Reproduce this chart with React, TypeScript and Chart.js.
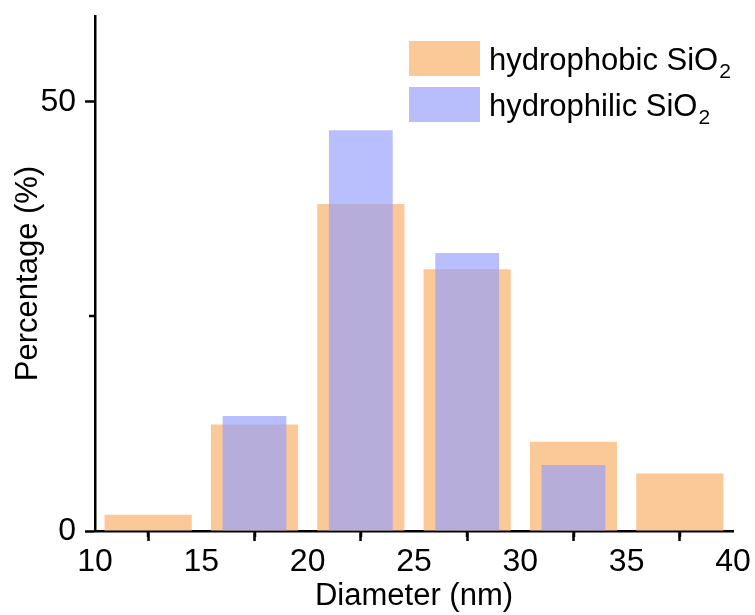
import React, { useEffect, useRef } from 'react';
import { Chart, registerables } from 'chart.js';

Chart.register(...registerables);

// ---- data ----
const binCenters = [12.5, 17.5, 22.5, 27.5, 32.5, 37.5];
const hydrophobicValues = [1.9, 12.4, 38.1, 30.5, 10.4, 6.7];
const hydrophilicCenters = [17.5, 22.5, 27.5, 32.5];
const hydrophilicValues = [13.4, 46.7, 32.4, 7.7];
const xMajorTicks = [10, 15, 20, 25, 30, 35, 40];
const xMinorTicks = [12.5, 17.5, 22.5, 27.5, 32.5, 37.5];
const yMajorTicks = [0, 50];
const yMinorTicks = [25];
const seriesNames = ['hydrophobic SiO', 'hydrophilic SiO'];
const seriesSubscripts = ['2', '2'];
const xTitle = 'Diameter (nm)';
const yTitle = 'Percentage (%)';

const FONT = '"Liberation Sans", Arial, sans-serif';
const ORANGE = 'rgb(251,200,151)';
const BLUE = 'rgba(149,160,251,0.67)';
const BLUE_SWATCH = 'rgb(184,190,251)';

const overlayPlugin = {
  id: 'overlayPlugin',
  afterDraw(chart: any) {
    const ctx = chart.ctx;
    const xs = chart.scales.x;
    const ys = chart.scales.y;
    const area = chart.chartArea;
    ctx.save();
    ctx.strokeStyle = '#000';
    ctx.lineWidth = 2.5;
    // minor ticks
    xMinorTicks.forEach((v) => {
      const px = Math.round(xs.getPixelForValue(v));
      ctx.beginPath();
      ctx.moveTo(px, area.bottom);
      ctx.lineTo(px, area.bottom + 6);
      ctx.stroke();
    });
    yMinorTicks.forEach((v) => {
      const py = Math.round(ys.getPixelForValue(v));
      ctx.beginPath();
      ctx.moveTo(area.left, py);
      ctx.lineTo(area.left - 6, py);
      ctx.stroke();
    });
    // legend
    const colors = [ORANGE, BLUE_SWATCH];
    const boxX = area.left + 314;
    const rowTops = [area.top + 25, area.top + 71];
    ctx.textAlign = 'left';
    ctx.textBaseline = 'alphabetic';
    seriesNames.forEach((name, i) => {
      ctx.fillStyle = colors[i];
      ctx.fillRect(boxX, rowTops[i], 71, 35);
      ctx.fillStyle = '#000';
      ctx.font = `31px ${FONT}`;
      const tx = boxX + 80;
      const baseline = rowTops[i] + 29;
      ctx.fillText(name, tx, baseline);
      const w = ctx.measureText(name).width;
      ctx.font = `21px ${FONT}`;
      ctx.fillText(seriesSubscripts[i], tx + w + 1, baseline + 8);
    });
    ctx.restore();
  },
};

export default function App() {
  const canvasRef = useRef<HTMLCanvasElement | null>(null);

  useEffect(() => {
    if (!canvasRef.current) return;
    const chart = new Chart(canvasRef.current, {
      type: 'bar',
      data: {
        datasets: [
          {
            label: seriesNames[0] + seriesSubscripts[0],
            data: binCenters.map((x, i) => ({ x, y: hydrophobicValues[i] })),
            backgroundColor: ORANGE,
            borderWidth: 0,
            barPercentage: 0.82,
            categoryPercentage: 1,
            grouped: false,
            order: 1,
          },
          {
            label: seriesNames[1] + seriesSubscripts[1],
            data: hydrophilicCenters.map((x, i) => ({ x, y: hydrophilicValues[i] })),
            backgroundColor: BLUE,
            borderWidth: 0,
            barPercentage: 0.6,
            categoryPercentage: 1,
            grouped: false,
            order: 0,
          },
        ],
      } as any,
      options: {
        animation: false,
        responsive: false,
        layout: { padding: { left: 0, top: 16, right: 22, bottom: 0 } },
        plugins: {
          legend: { display: false },
          tooltip: { enabled: false },
        },
        scales: {
          x: {
            type: 'linear',
            min: 10,
            max: 40,
            offset: false,
            z: 1,
            afterBuildTicks: (scale: any) => {
              scale.ticks = xMajorTicks.map((v) => ({ value: v }));
            },
            afterFit: (scale: any) => {
              scale.height = 84;
              scale.paddingLeft = 0;
              scale.paddingRight = 0;
            },
            ticks: {
              color: '#000',
              font: { family: FONT, size: 32 },
              padding: 2,
              maxRotation: 0,
              autoSkip: false,
            },
            grid: {
              display: true,
              drawOnChartArea: false,
              drawTicks: true,
              tickLength: 10,
              tickWidth: 2.5,
              tickColor: '#000',
              color: '#000',
            },
            border: { display: true, color: '#000', width: 2.5 },
            title: {
              display: true,
              text: xTitle,
              color: '#000',
              font: { family: FONT, size: 31 },
              padding: { top: 0, bottom: 0 },
            },
          },
          y: {
            type: 'linear',
            min: 0,
            max: 60,
            z: 1,
            afterBuildTicks: (scale: any) => {
              scale.ticks = yMajorTicks.map((v) => ({ value: v }));
            },
            afterFit: (scale: any) => {
              scale.width = 95;
              scale.paddingTop = 0;
              scale.paddingBottom = 0;
            },
            ticks: {
              color: '#000',
              font: { family: FONT, size: 32 },
              padding: 9,
            },
            grid: {
              display: true,
              drawOnChartArea: false,
              drawTicks: true,
              tickLength: 10,
              tickWidth: 2.5,
              tickColor: '#000',
              color: '#000',
            },
            border: { display: true, color: '#000', width: 2.5 },
            title: {
              display: true,
              text: yTitle,
              color: '#000',
              font: { family: FONT, size: 31 },
              padding: { top: 10, bottom: 0 },
            },
          },
        },
      } as any,
      plugins: [overlayPlugin],
    });
    return () => chart.destroy();
  }, []);

  return (
    <div style={{ position: 'absolute', left: 0, top: 0, width: 755, height: 615, background: '#fff' }}>
      <canvas ref={canvasRef} width={755} height={615} />
    </div>
  );
}
